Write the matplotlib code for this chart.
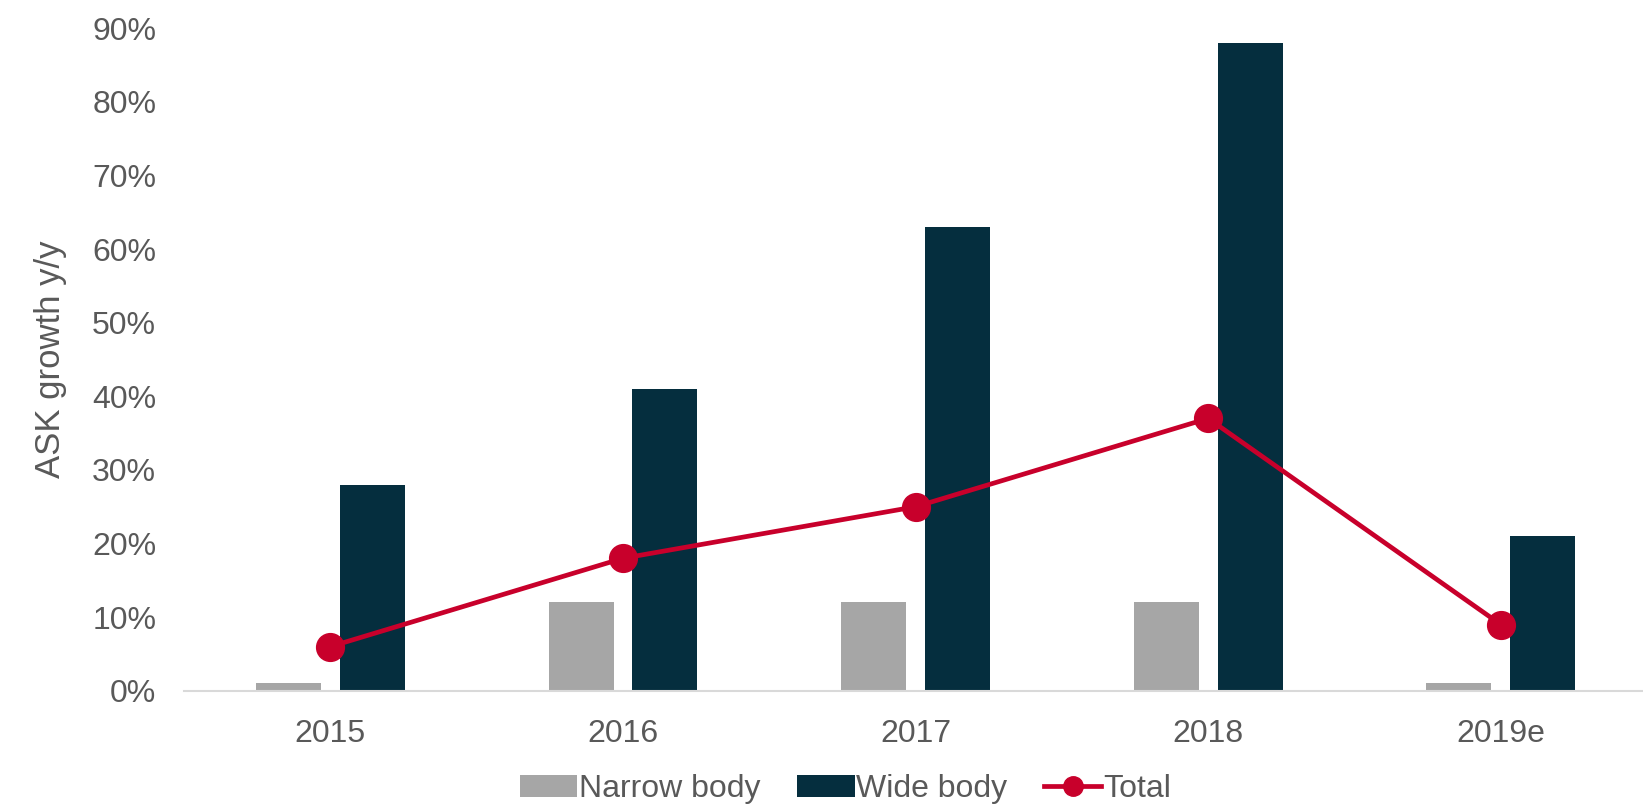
import numpy as np
import matplotlib
matplotlib.use('Agg')
import matplotlib.pyplot as plt
from matplotlib.ticker import PercentFormatter

plt.rcParams['font.family'] = ['Liberation Sans', 'DejaVu Sans']

# data (in %)
years = ['2015', '2016', '2017', '2018', '2019e']
narrow_body = [1, 12, 12, 12, 1]
wide_body = [28, 41, 63, 88, 21]
total = [6, 18, 25, 37, 9]

text_col = '#595959'
x = np.arange(len(years))
w = 0.222

fig = plt.figure(figsize=(16.43, 8.07), dpi=100)
ax = fig.add_axes([0.112, 0.144, 0.8905, 0.821])

b1 = ax.bar(x - 0.143, narrow_body, width=w, color='#a6a6a6', label='Narrow body', zorder=2)
b2 = ax.bar(x + 0.143, wide_body, width=w, color='#052e3e', label='Wide body', zorder=2)
l1, = ax.plot(x, total, color='#c8002b', lw=3.4, marker='o', markersize=20, label='Total', zorder=3)

ax.set_ylim(0, 90)
ax.set_xlim(-0.5, len(years) - 0.5)
ax.set_yticks(range(0, 91, 10))
ax.yaxis.set_major_formatter(PercentFormatter(decimals=0))
ax.set_xticks(x)
ax.set_xticklabels(years)
ax.tick_params(length=0, labelsize=23, colors=text_col)
ax.tick_params(axis='x', pad=20)
ax.tick_params(axis='y', pad=20)

for s in ['top', 'right', 'left']:
    ax.spines[s].set_visible(False)
ax.spines['bottom'].set_color('#d9d9d9')
ax.spines['bottom'].set_linewidth(1.5)

ax.set_ylabel('ASK growth y/y', fontsize=25, color=text_col, labelpad=18)

leg = ax.legend([b1, b2, l1], ['Narrow body', 'Wide body', 'Total'],
                loc='lower center', bbox_to_anchor=(0.452, -0.215), ncol=3, frameon=False,
                fontsize=23, handlelength=1.8, handletextpad=0.05, columnspacing=1.15,
                markerscale=0.7)
for t in leg.get_texts():
    t.set_color(text_col)

fig.savefig('out.png', dpi=100)
